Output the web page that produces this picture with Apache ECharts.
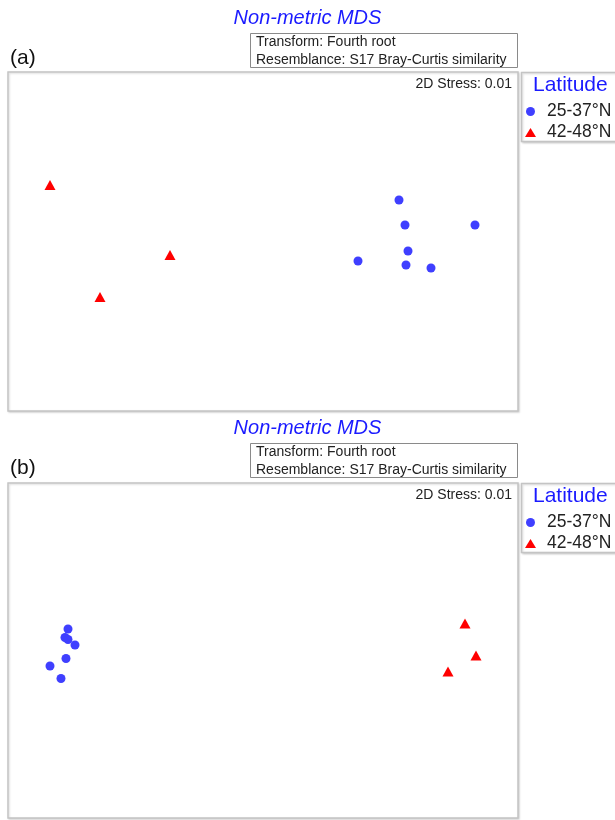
<!DOCTYPE html>
<html>
<head>
<meta charset="utf-8">
<style>html,body{margin:0;padding:0;background:#fff;}#chart{width:615px;height:820px;}</style>
<script src="https://cdn.jsdelivr.net/npm/echarts@6/dist/echarts.min.js"></script>
</head>
<body>
<div id="chart"></div>
<script>
// ---- data (MDS coordinates) ----
const groupNames = ['25-37°N', '42-48°N'];
const panelLabels = ['(a)', '(b)'];
const chartTitle = 'Non-metric MDS';
const infoLines = ['Transform: Fourth root', 'Resemblance: S17 Bray-Curtis similarity'];
const stressText = '2D Stress: 0.01';
const legendTitle = 'Latitude';

const aLowLat = [[1.36, 0.415], [1.42, 0.165], [2.12, 0.165], [1.45, -0.095], [0.95, -0.195], [1.43, -0.235], [1.68, -0.265]];
const aHighLat = [[-2.13, 0.565], [-0.93, -0.135], [-1.63, -0.555]];
const bLowLat = [[-1.95, 0.215], [-1.98, 0.13], [-1.95, 0.11], [-1.88, 0.055], [-1.97, -0.08], [-2.13, -0.155], [-2.02, -0.28]];
const bHighLat = [[2.02, 0.27], [2.13, -0.05], [1.85, -0.21]];

// ---- layout ----
const FONT = 'Liberation Sans, Arial, sans-serif';
const BLUE = '#3f3fff';
const RED = '#ff0000';
const panels = [
  { top: 72, height: 339, yr: 1.695, titleY: 18, boxY: 33, labelY: 58 },
  { top: 483, height: 335, yr: 1.675, titleY: 428, boxY: 443, labelY: 468 }
];

const chart = echarts.init(document.getElementById('chart'), null, { renderer: 'canvas' });

const grids = [], xAxes = [], yAxes = [], legends = [], graphics = [];
panels.forEach((p, i) => {
  grids.push({ left: 8, top: p.top, width: 510, height: p.height, show: true,
    borderColor: '#c4c4c4', borderWidth: 1.5, backgroundColor: '#fff',
    shadowColor: 'rgba(0,0,0,0.15)', shadowBlur: 2, shadowOffsetX: 1, shadowOffsetY: 1 });
  xAxes.push({ type: 'value', gridIndex: i, min: -2.55, max: 2.55, show: false });
  yAxes.push({ type: 'value', gridIndex: i, min: -p.yr, max: p.yr, show: false });
  legends.push({ orient: 'vertical', left: 525, top: p.top + 30.5, itemWidth: 11, itemHeight: 9, itemGap: 3,
    padding: 0,
    data: groupNames.map(n => ({ name: n })),
    textStyle: { fontFamily: FONT, fontSize: 17.5, color: '#222', lineHeight: 17, padding: [0, 0, 0, 6] }, selectedMode: false });
  graphics.push(
    { type: 'text', left: 'center', top: p.titleY - 10, style: { text: chartTitle, font: 'italic 20px ' + FONT, fill: '#1a1aff' }, z: 10 },
    { type: 'text', left: 10, top: p.labelY - 10, style: { text: panelLabels[i], font: '21px ' + FONT, fill: '#111' }, z: 10 },
    { type: 'rect', shape: { x: 250.5, y: p.boxY + 0.5, width: 267, height: 34 }, style: { fill: '#fff', stroke: '#8a8a8a', lineWidth: 1 }, z: 10 },
    { type: 'text', x: 256, y: p.boxY + 0.5, style: { text: infoLines.join('\n'), font: '14px ' + FONT, fill: '#222', lineHeight: 17.5 }, z: 11 },
    { type: 'text', right: 615 - 512, top: p.top + 5.5, style: { text: stressText, font: '14px ' + FONT, fill: '#222' }, z: 11 },
    { type: 'rect', shape: { x: 521.5, y: p.top + 0.5, width: 110, height: 69 }, style: { fill: '#fff', stroke: '#c4c4c4', lineWidth: 1.5, shadowColor: 'rgba(0,0,0,0.15)', shadowBlur: 2, shadowOffsetX: 1, shadowOffsetY: 1 }, z: 1 },
    { type: 'text', x: 533, y: p.top + 2.5, style: { text: legendTitle, font: '21px ' + FONT, fill: '#1a1aff' }, z: 11 }
  );
});

const mk = (name, data, gi, sym, size, color) => ({
  name, type: 'scatter', xAxisIndex: gi, yAxisIndex: gi, data,
  symbol: sym, symbolSize: size, itemStyle: { color, opacity: 1 }, z: 5
});

chart.setOption({
  animation: false,
  grid: grids, xAxis: xAxes, yAxis: yAxes, legend: legends,
  graphic: { elements: graphics },
  series: [
    mk(groupNames[0], aLowLat, 0, 'circle', 9, BLUE),
    mk(groupNames[1], aHighLat, 0, 'triangle', [11, 10], RED),
    mk(groupNames[0], bLowLat, 1, 'circle', 9, BLUE),
    mk(groupNames[1], bHighLat, 1, 'triangle', [11, 10], RED)
  ]
});
</script>
</body>
</html>
